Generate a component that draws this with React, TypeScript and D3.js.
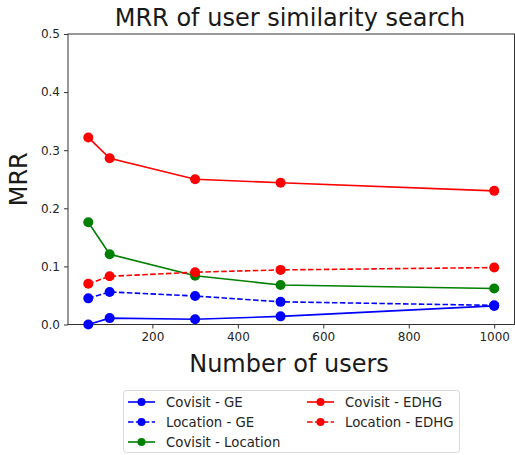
import React, { useEffect, useRef } from "react";
import * as d3 from "d3";

// number of users (x)
const users = [50, 100, 300, 500, 1000];

// MRR values per series
const covisitGE = [0.0, 0.011, 0.009, 0.014, 0.032];
const locationGE = [0.045, 0.056, 0.049, 0.039, 0.033];
const covisitLocation = [0.176, 0.121, 0.084, 0.068, 0.062];
const covisitEDHG = [0.322, 0.286, 0.25, 0.244, 0.23];
const locationEDHG = [0.07, 0.083, 0.09, 0.094, 0.098];

const seriesNames = [
  "Covisit - GE",
  "Location - GE",
  "Covisit - Location",
  "Covisit - EDHG",
  "Location - EDHG",
];
const xTicks = [200, 400, 600, 800, 1000];
const yTicks = [0, 0.1, 0.2, 0.3, 0.4, 0.5];

const App = () => {
  const ref = useRef<SVGSVGElement>(null);

  useEffect(() => {
    const svg = d3.select(ref.current);
    svg.selectAll("*").remove();

    const left = 68;
    const right = 514.5;
    const top = 34;
    const bottom = 324.5;
    const font = "DejaVu Sans, sans-serif";

    const x = d3.scaleLinear().domain([2.5, 1047.5]).range([left, right]);
    const y = d3.scaleLinear().domain([0, 0.5]).range([bottom, top]);

    const series = [
      { name: seriesNames[0], values: covisitGE, color: "#0000ff", dash: null },
      { name: seriesNames[1], values: locationGE, color: "#0000ff", dash: "5.5,2.4" },
      { name: seriesNames[2], values: covisitLocation, color: "#008000", dash: null },
      { name: seriesNames[3], values: covisitEDHG, color: "#ff0000", dash: null },
      { name: seriesNames[4], values: locationEDHG, color: "#ff0000", dash: "5.5,2.4" },
    ];

    // frame
    svg
      .append("rect")
      .attr("x", left)
      .attr("y", top)
      .attr("width", right - left)
      .attr("height", bottom - top)
      .attr("fill", "white")
      .attr("stroke", "#333")
      .attr("stroke-width", 1);

    const xAxis = svg
      .append("g")
      .attr("transform", `translate(0,${bottom})`)
      .call(d3.axisBottom(x).tickValues(xTicks).tickSize(4).tickPadding(4).tickFormat(d3.format("d")));
    const yAxis = svg
      .append("g")
      .attr("transform", `translate(${left},0)`)
      .call(d3.axisLeft(y).tickValues(yTicks).tickSize(4).tickPadding(4).tickFormat(d3.format(".1f")));
    [xAxis, yAxis].forEach((a) => {
      a.select(".domain").remove();
      a.selectAll("line").attr("stroke", "#333");
      a.selectAll("text")
        .attr("fill", "#262626")
        .style("font-family", font)
        .style("font-size", "12px");
    });

    const line = d3
      .line<number>()
      .x((_, i) => x(users[i]))
      .y((d) => y(d));

    series.forEach((s) => {
      svg
        .append("path")
        .datum(s.values)
        .attr("d", line)
        .attr("fill", "none")
        .attr("stroke", s.color)
        .attr("stroke-width", 1.6)
        .attr("stroke-dasharray", s.dash);
      svg
        .append("g")
        .selectAll("circle")
        .data(s.values)
        .join("circle")
        .attr("cx", (_, i) => x(users[i]))
        .attr("cy", (d) => y(d))
        .attr("r", 5)
        .attr("fill", s.color);
    });

    // title and labels
    svg
      .append("text")
      .attr("x", 290)
      .attr("y", 26)
      .attr("text-anchor", "middle")
      .style("font-family", font)
      .style("font-size", "24px")
      .attr("fill", "#1a1a1a")
      .text("MRR of user similarity search");
    svg
      .append("text")
      .attr("x", 289)
      .attr("y", 372)
      .attr("text-anchor", "middle")
      .style("font-family", font)
      .style("font-size", "24px")
      .attr("fill", "#1a1a1a")
      .text("Number of users");
    svg
      .append("text")
      .attr("transform", `translate(27,${(top + bottom) / 2}) rotate(-90)`)
      .attr("text-anchor", "middle")
      .style("font-family", font)
      .style("font-size", "24px")
      .attr("fill", "#1a1a1a")
      .text("MRR");

    // legend
    const legend = svg.append("g");
    legend
      .append("rect")
      .attr("x", 123.5)
      .attr("y", 390.5)
      .attr("width", 336)
      .attr("height", 62)
      .attr("rx", 3)
      .attr("fill", "white")
      .attr("stroke", "#d9d9d9");
    const slots = [
      [128, 402],
      [128, 422],
      [128, 442],
      [307, 402],
      [307, 422],
    ];
    series.forEach((s, i) => {
      const [lx, ly] = slots[i];
      const g = legend.append("g").attr("transform", `translate(${lx},${ly})`);
      g.append("line")
        .attr("x1", 0)
        .attr("x2", 27)
        .attr("stroke", s.color)
        .attr("stroke-width", 1.6)
        .attr("stroke-dasharray", s.dash ? "5.5,2.4" : null);
      g.append("circle").attr("cx", 13.5).attr("r", 4).attr("fill", s.color);
      g.append("text")
        .attr("x", 38)
        .attr("dy", "0.35em")
        .style("font-family", font)
        .style("font-size", "13.3px")
        .attr("fill", "#262626")
        .text(s.name);
    });
  }, []);

  return (
    <svg
      ref={ref}
      width={515}
      height={455}
      style={{ position: "absolute", left: 0, top: 0, background: "white" }}
    />
  );
};

export default App;
